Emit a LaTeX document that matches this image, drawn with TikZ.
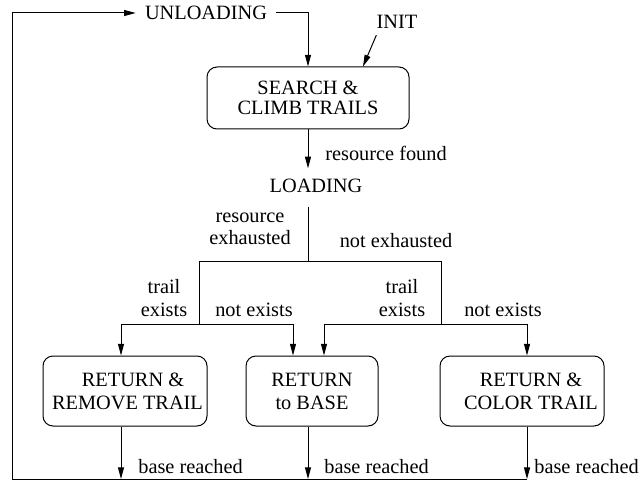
\documentclass[tikz,border=0pt]{standalone}
\usepackage{fontspec}
\setmainfont{Liberation Serif}
\usetikzlibrary{arrows.meta}
\begin{document}
\begin{tikzpicture}[x=0.6pt,y=-0.6pt,
  every node/.style={font=\fontsize{12.2}{13.8}\selectfont},
  box/.style={draw, rounded corners=6pt, line width=0.6pt, align=center, inner sep=0pt},
  lbl/.style={inner sep=0pt, align=center},
  conn/.style={line width=0.6pt},
  arr/.style={conn, -{Triangle[length=7pt,width=3.6pt]}}]
\useasboundingbox (0,0) rectangle (642,482);

% texts
\node[lbl, inner xsep=5.4pt] (unl) at (206,13) {UNLOADING};
\node[lbl] (init) at (397,21.5) {INIT};
\node[box, minimum width=121.2pt, minimum height=37.2pt, font=\fontsize{12.2}{12}\selectfont] (search) at (308,98) {SEARCH \&\\CLIMB TRAILS};
\node[lbl, anchor=west] (found) at (325,153) {resource found};
\node[lbl, inner ysep=6pt] (load) at (316,185.5) {LOADING};
\node[lbl, font=\fontsize{12.2}{13.2}\selectfont] (exh) at (250,229) {resource\\exhausted};
\node[lbl] (notexh) at (396,241) {not exhausted};
\node[lbl] (te1) at (164,298.5) {trail\\exists};
\node[lbl] (ne1) at (254,310) {not exists};
\node[lbl] (te2) at (402,298.5) {trail\\exists};
\node[lbl] (ne2) at (503,310) {not exists};
\node[box, minimum width=98.4pt, minimum height=42pt] (b1) at (125,391) {\hspace*{9.6pt}RETURN \&\\\hspace*{3pt}REMOVE TRAIL};
\node[box, minimum width=79.2pt, minimum height=42pt] (b2) at (312,391) {RETURN\\to BASE};
\node[box, minimum width=98.4pt, minimum height=42pt] (b3) at (522,391) {\hspace*{10.8pt}RETURN \&\\\hspace*{10.8pt}COLOR TRAIL};
\node[lbl, anchor=west] (br1) at (138,467) {base reached};
\node[lbl, anchor=west] (br2) at (324,467) {base reached};
\node[lbl, anchor=west] (br3) at (534,467) {base reached};

% junction coordinates
\coordinate (split) at (308,261);
\coordinate (sl) at (199,261);
\coordinate (sr) at (441,261);
\coordinate (jl) at (199,324);
\coordinate (jr) at (441,324);
\coordinate (a1) at (121,324);
\coordinate (a2) at (293,324);
\coordinate (a3) at (324,324);
\coordinate (a4) at (527,324);
\coordinate (o1) at (121,479);
\coordinate (o2) at (308,479);
\coordinate (o3) at (527,479);
\coordinate (bl) at (12,479);
\coordinate (tl) at (12,13);

% connectors
\draw[arr] (unl.east) -| (search.north);
\draw[arr] ([yshift=-4pt]init.south west) -- ([xshift=33pt]search.north);
\draw[arr] (search.south) -- (search.south |- load.north);
\draw[conn] ([yshift=-2.4pt]load.south -| split) -- (split);
\draw[conn] (sl) -- (sr);
\draw[conn] (sl) -- (jl);
\draw[conn] (sr) -- (jr);
\draw[arr] (jl) -- (a1) -- (a1 |- b1.north);
\draw[arr] (jl) -- (a2) -- (a2 |- b2.north);
\draw[arr] (jr) -- (a3) -- (a3 |- b2.north);
\draw[arr] (jr) -- (a4) -- (a4 |- b3.north);
\draw[arr] (o1 |- b1.south) -- (o1);
\draw[arr] (o2 |- b2.south) -- (o2);
\draw[arr] (o3 |- b3.south) -- (o3);
\draw[arr] (o3) -- (bl) -- (tl) -- (unl.west);
\end{tikzpicture}
\end{document}
